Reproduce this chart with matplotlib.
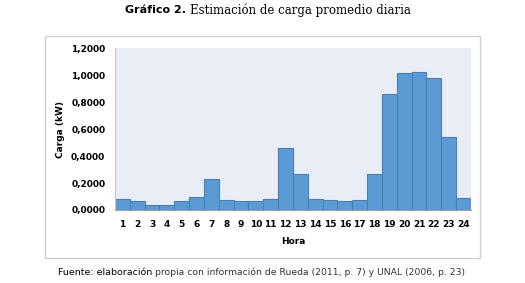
import matplotlib.pyplot as plt
import numpy as np
from matplotlib.patches import Rectangle
from matplotlib.ticker import FuncFormatter

hours = list(range(1, 25))
load_kw = [0.079, 0.067, 0.040, 0.035, 0.064, 0.094, 0.228, 0.074, 0.067, 0.067,
           0.079, 0.463, 0.265, 0.079, 0.072, 0.064, 0.072, 0.265, 0.861, 1.014,
           1.024, 0.982, 0.542, 0.092]
y_ticks = [0.0, 0.2, 0.4, 0.6, 0.8, 1.0, 1.2]

BAR = "#5b9bd5"
EDGE = "#4a7fb0"

fig = plt.figure(figsize=(5.25, 2.83), dpi=100)

# outer chart frame
frame = Rectangle((0.086, 0.088), 0.829, 0.785, transform=fig.transFigure,
                  facecolor="white", edgecolor="#d0d0d0", linewidth=1.0, zorder=-5)
fig.patches.append(frame)

ax = fig.add_axes([0.219, 0.258, 0.678, 0.572], zorder=2)
ax.set_facecolor("#e9edf6")
ax.bar(hours, load_kw, width=1.0, color=BAR, edgecolor=EDGE, linewidth=0.8)

ax.set_xlim(0.5, 24.5)
ax.set_ylim(0, 1.2)
ax.set_yticks(y_ticks)
ax.yaxis.set_major_formatter(FuncFormatter(lambda v, p: f"{v:.4f}".replace(".", ",")))
ax.set_xticks(hours)
ax.tick_params(axis="both", labelsize=6.5, length=0, pad=7)
for lbl in ax.get_xticklabels() + ax.get_yticklabels():
    lbl.set_fontweight("bold")

for s in ["top", "right"]:
    ax.spines[s].set_visible(False)
ax.spines["left"].set_color("#c8c8c8")
ax.spines["bottom"].set_color("#a0a0a0")

ax.set_xlabel("Hora", fontsize=6.5, fontweight="bold", labelpad=6)
ax.set_ylabel("Carga (kW)", fontsize=6.5, fontweight="bold", labelpad=4)

# title
fig.text(0.355, 0.963, "Gráfico 2.", ha="right", va="center", fontsize=8,
         fontweight="bold", family="DejaVu Sans")
fig.text(0.362, 0.963, "Estimación de carga promedio diaria", ha="left", va="center",
         fontsize=8.5, family="DejaVu Serif")

# source note
fig.text(0.290, 0.038, "Fuente: elaboración", ha="right", va="center", fontsize=6.8,
         family="DejaVu Sans")
fig.text(0.295, 0.038, "propia con información de Rueda (2011, p. 7) y UNAL (2006, p. 23)",
         ha="left", va="center", fontsize=6.7, family="DejaVu Sans", color="#333333")

fig.savefig("out.png", dpi=100)
